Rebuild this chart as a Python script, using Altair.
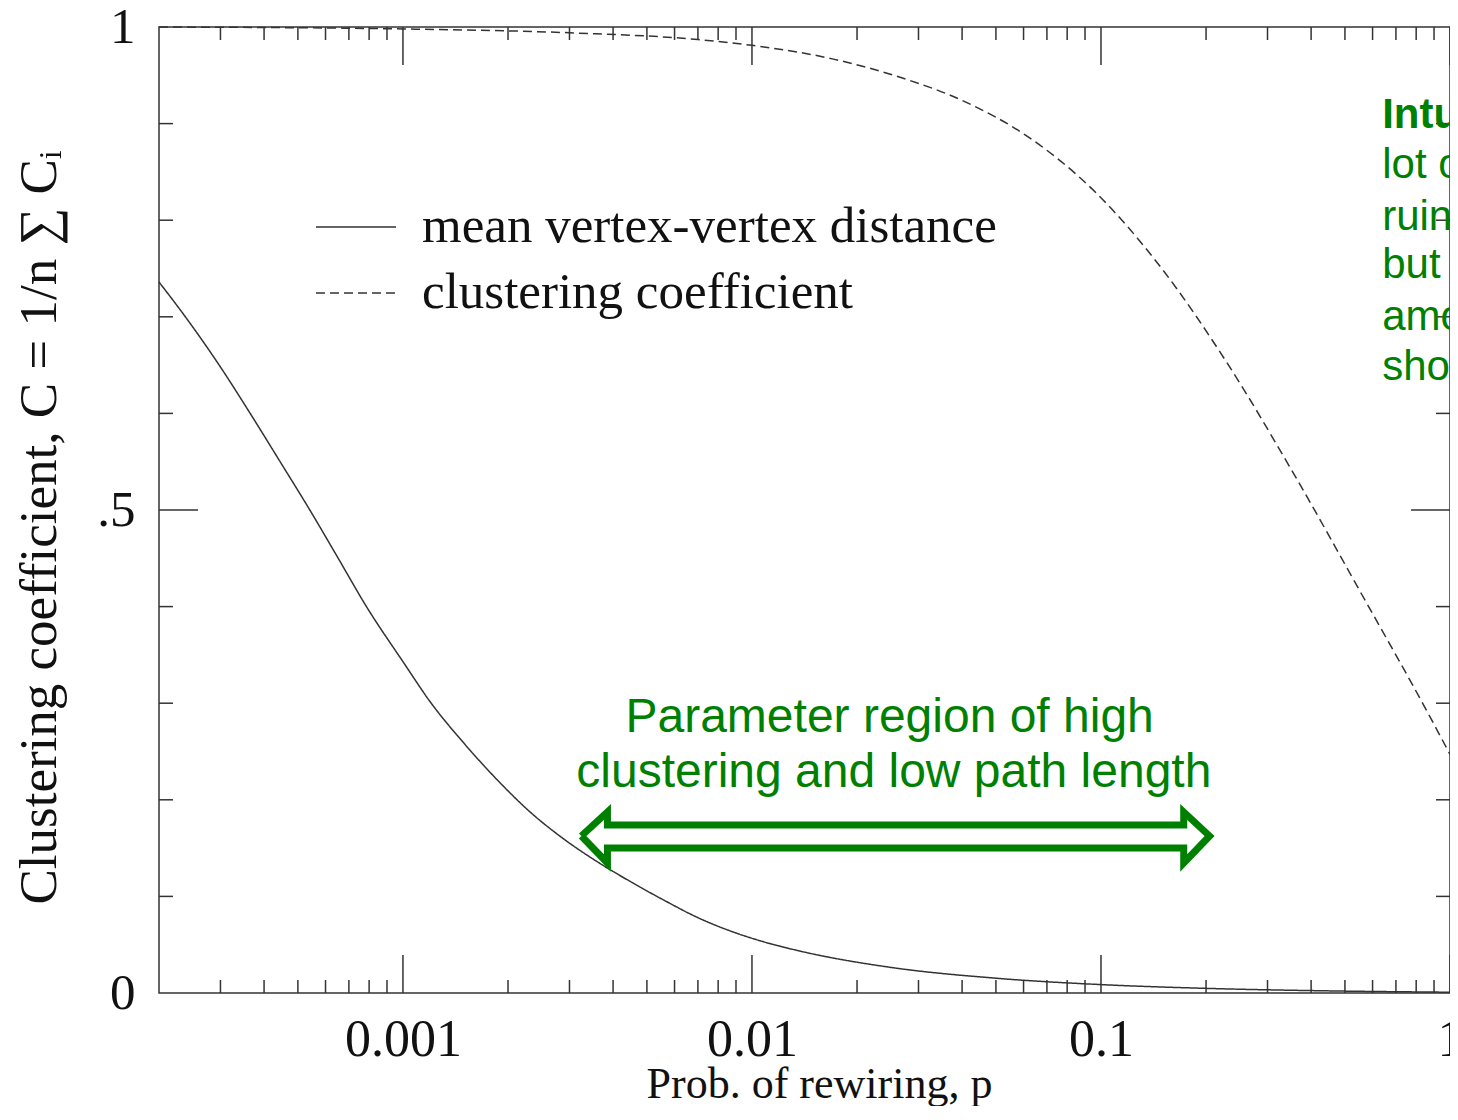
import altair as alt
import pandas as pd

# ---- data ----
dist_p = [0.0002, 0.000238, 0.0003, 0.000365, 0.00045, 0.000541, 0.00065, 0.000786, 0.001,
          0.001205, 0.0015, 0.00187, 0.00232, 0.0029, 0.0036, 0.0045, 0.0056, 0.007,
          0.0087, 0.0108, 0.0135, 0.025, 0.05, 0.1, 0.2, 0.45, 1.0]
dist_v = [0.736, 0.700, 0.648, 0.600, 0.547, 0.500, 0.451, 0.400, 0.343,
          0.300, 0.258, 0.220, 0.187, 0.159, 0.136, 0.115, 0.096, 0.078,
          0.064, 0.053, 0.044, 0.0265, 0.0153, 0.0087, 0.0048, 0.0022, 0.0008]

clust_p = [0.0002, 0.001, 0.003, 0.007, 0.01, 0.017, 0.026, 0.04, 0.062, 0.097,
           0.15, 0.23, 0.36, 0.56, 0.87, 1.0]
clust_v = [1.0, 0.998, 0.994, 0.987, 0.981, 0.967, 0.949, 0.924, 0.886, 0.828,
           0.749, 0.652, 0.535, 0.412, 0.288, 0.247]

series_names = ["mean vertex-vertex distance", "clustering coefficient"]

x_tick_values = [0.001, 0.01, 0.1, 1]
x_minor_ticks = [0.0003, 0.0004, 0.0005, 0.0006, 0.0007, 0.0008, 0.0009,
                 0.002, 0.003, 0.004, 0.005, 0.006, 0.007, 0.008, 0.009,
                 0.02, 0.03, 0.04, 0.05, 0.06, 0.07, 0.08, 0.09,
                 0.2, 0.3, 0.4, 0.5, 0.6, 0.7, 0.8, 0.9]
y_tick_values = [0, 0.5, 1]
y_major_inner = [0.5]
y_minor_ticks = [0.1, 0.2, 0.3, 0.4, 0.6, 0.7, 0.8, 0.9]

note_lines = ["Parameter region of high", "clustering and low path length"]
note_p = [0.0248, 0.0255]
note_v = [0.2702, 0.2133]

arrow_p = [0.003245, 0.003854, 0.003854, 0.1726, 0.1726, 0.2047, 0.1726, 0.1726,
           0.003854, 0.003854, 0.003245]
arrow_v = [0.1625, 0.1874, 0.1739, 0.1739, 0.1874, 0.1625, 0.1346, 0.1501,
           0.1501, 0.1346, 0.1625]

side_title = ["Intuition: It takes a"]
side_lines = ["lot of randomness to", "ruin the clustering,", "but a very small",
              "amount to create", "shortcuts"]
side_p = 0.6393
side_title_v = [0.8954]
side_lines_v = [0.8437, 0.7899, 0.7402, 0.6863, 0.6346]

# ---- layout ----
W, H = 1291, 966
INK = "#333333"
GREEN = "#008000"
SERIF = "Liberation Serif"
SANS = "Liberation Sans"

xs = alt.Scale(type="log", domain=[0.0002, 1], nice=False)
ys = alt.Scale(domain=[0, 1], nice=False, zero=False)

curve_df = pd.concat([
    pd.DataFrame({"series": series_names[0], "p": dist_p, "v": dist_v}),
    pd.DataFrame({"series": series_names[1], "p": clust_p, "v": clust_v}),
])

x_axis = alt.Axis(values=x_tick_values, format="~g", ticks=False, domain=False, grid=False,
                  labelFont=SERIF, labelFontSize=52, labelColor="#111", labelPadding=21,
                  labelFlush=False, labelOverlap=False,
                  title="Prob. of rewiring, p", titleFont=SERIF, titleFontSize=44,
                  titleFontWeight="normal", titleColor="#111", titleX=660, titleY=104,
                  titleAlign="center", titleBaseline="alphabetic")
y_axis = alt.Axis(values=y_tick_values,
                  labelExpr="datum.value == 0.5 ? '.5' : format(datum.value, 'd')",
                  ticks=False, domain=False, grid=False,
                  labelFont=SERIF, labelFontSize=51, labelColor="#111", labelPadding=24,
                  labelFlush=False, labelOverlap=False, labelBaseline="middle",
                  title="Clustering coefficient, C = 1/n \u2211 C\u1d62", titleFont=SERIF,
                  titleFontSize=53, titleFontWeight="normal", titleColor="#111",
                  titleAngle=270, titleX=-104, titleY=500, titleAlign="center",
                  titleBaseline="alphabetic")

X = alt.X("p:Q", scale=xs, axis=x_axis)
Y = alt.Y("v:Q", scale=ys, axis=y_axis)

curves = alt.Chart(curve_df).mark_line(interpolate="monotone", strokeWidth=1.5, color=INK).encode(
    x=X, y=Y,
    strokeDash=alt.StrokeDash(
        "series:N",
        scale=alt.Scale(domain=series_names, range=[[1, 0], [9, 5]]),
        legend=alt.Legend(orient="none", legendX=156, legendY=159, title=None,
                          symbolType="stroke", symbolSize=6400, symbolStrokeWidth=1.5,
                          symbolStrokeColor=INK, labelFont=SERIF, labelFontSize=51,
                          labelColor="#111", labelOffset=25, rowPadding=0, padding=0,
                          labelLimit=1000),
    ),
)


def x_ticks(vals, y0, y1):
    return alt.Chart(pd.DataFrame({"p": vals})).mark_rule(color=INK, strokeWidth=1.5).encode(
        x=X, y=alt.value(y0), y2=alt.value(y1))


def y_ticks(vals, x0, x1):
    return alt.Chart(pd.DataFrame({"v": vals})).mark_rule(color=INK, strokeWidth=1.5).encode(
        y=Y, x=alt.value(x0), x2=alt.value(x1))


ticks = [
    x_ticks(x_tick_values, H, H - 38), x_ticks(x_minor_ticks, H, H - 13),
    x_ticks(x_tick_values, 0, 38), x_ticks(x_minor_ticks, 0, 13),
    y_ticks(y_major_inner, 0, 39), y_ticks(y_minor_ticks, 0, 14),
    y_ticks(y_major_inner, W, W - 39), y_ticks(y_minor_ticks, W, W - 14),
]

note = alt.Chart(pd.DataFrame({"p": note_p, "v": note_v, "t": note_lines})).mark_text(
    font=SANS, fontSize=48, color=GREEN, align="center", baseline="alphabetic").encode(
    x=X, y=Y, text="t:N")

arrow = alt.Chart(pd.DataFrame({"p": arrow_p, "v": arrow_v, "i": list(range(len(arrow_p)))})).mark_line(
    color=GREEN, strokeWidth=7, strokeJoin="miter").encode(x=X, y=Y, order="i:Q")

side_t = alt.Chart(pd.DataFrame({"p": [side_p], "v": side_title_v, "t": side_title})).mark_text(
    font=SANS, fontSize=42, fontWeight="bold", color=GREEN, align="left", baseline="alphabetic").encode(
    x=X, y=Y, text="t:N")
side_b = alt.Chart(pd.DataFrame({"p": [side_p] * len(side_lines), "v": side_lines_v, "t": side_lines})).mark_text(
    font=SANS, fontSize=42, color=GREEN, align="left", baseline="alphabetic").encode(
    x=X, y=Y, text="t:N")

chart = alt.layer(curves, *ticks, note, arrow, side_t, side_b).properties(
    width=W, height=H,
    padding={"left": 151, "top": 19, "right": 0, "bottom": 113},
    autosize=alt.AutoSizeParams(type="none"),
).configure_view(stroke=INK, strokeWidth=1.5)

chart.save("out.html", embed_options={"renderer": "svg", "actions": False})
